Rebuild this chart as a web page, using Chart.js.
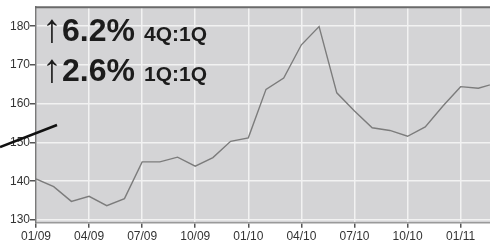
<!DOCTYPE html>
<html>
<head>
<meta charset="utf-8">
<script src="https://cdn.jsdelivr.net/npm/chart.js@4/dist/chart.umd.min.js"></script>
<style>
  html, body { margin: 0; padding: 0; background: #fff; }
</style>
</head>
<body>
<canvas id="price" width="490" height="248"></canvas>
<script>
const months = [
    "01/09","02/09","03/09","04/09","05/09","06/09","07/09","08/09","09/09",
    "10/09","11/09","12/09","01/10","02/10","03/10","04/10","05/10","06/10",
    "07/10","08/10","09/10","10/10","11/10","12/10","01/11","02/11","03/11"
]
const values = [
    140.6, 138.6, 134.8, 136.1, 133.7, 135.5, 145.0, 145.0, 146.2,
    143.9, 146.1, 150.3, 151.2, 163.7, 166.6, 175.2, 179.9, 162.8,
    158.1, 153.8, 153.1, 151.6, 154.0, 159.4, 164.4, 164.0, 165.3
]
const yTicks = [130, 140, 150, 160, 170, 180]
const xTickLabels = ["01/09","04/09","07/09","10/09","01/10","04/10","07/10","10/10","01/11"]
const notes = [
    {big: "6.2%", small: "4Q:1Q"},
    {big: "2.6%", small: "1Q:1Q"}
]

Chart.defaults.font.family = "'Liberation Sans', Arial, sans-serif"

// plot background, top border, the big % notes and the stray pen line
const decor = {
    id: 'decor',
    beforeDraw(chart) {
        const a = chart.chartArea
        const ctx = chart.ctx
        ctx.save()
        ctx.fillStyle = '#d4d4d6'
        ctx.fillRect(a.left, a.top, a.right - a.left, a.bottom - a.top)
        ctx.restore()
    },
    afterDraw(chart) {
        const a = chart.chartArea
        const ctx = chart.ctx
        ctx.save()
        ctx.strokeStyle = '#6a6a6a'
        ctx.lineWidth = 2
        ctx.beginPath()
        ctx.moveTo(a.left - 1, a.top)
        ctx.lineTo(a.right, a.top)
        ctx.stroke()

        ctx.fillStyle = '#1c1c1c'
        ctx.textBaseline = 'alphabetic'
        notes.forEach((n, i) => {
            const y = 41 + i * 39.5
            ctx.font = "bold 40px 'Liberation Sans', Arial"
            ctx.fillText("\u2191", 42, y + 1)
            ctx.font = "bold 32px 'Liberation Sans', Arial"
            ctx.fillText(n.big, 62, y)
            ctx.font = "bold 21px 'Liberation Sans', Arial"
            ctx.fillText(n.small, 144, y)
        })

        ctx.strokeStyle = '#111'
        ctx.lineWidth = 2.5
        ctx.beginPath()
        ctx.moveTo(0, 147)
        ctx.lineTo(57, 125)
        ctx.stroke()
        ctx.restore()
    }
}

const price_chart = new Chart(
    document.getElementById("price"),
    {
        type: 'line',
        data: {
            datasets: [{
                data: values.map((v, i) => ({x: i, y: v})),
                borderColor: '#7c7c7c',
                borderWidth: 1.4,
                pointRadius: 0,
                tension: 0
            }]
        },
        options: {
            responsive: false,
            animation: false,
            devicePixelRatio: 1,
            layout: {padding: {top: 5, left: 0, right: 0, bottom: 0}},
            plugins: {legend: {display: false}, tooltip: {enabled: false}},
            scales: {
                x: {
                    type: 'linear',
                    min: 0,
                    max: 25.66,
                    afterBuildTicks: s => {
                        s.ticks = xTickLabels.map(l => ({value: months.indexOf(l)}))
                    },
                    afterFit: s => { s.height = 25.3 },
                    ticks: {
                        callback: v => months[v],
                        color: '#333',
                        font: {size: 12},
                        padding: 2,
                        maxRotation: 0,
                        autoSkip: false
                    },
                    grid: {color: '#f2f2f2', lineWidth: 1.5, tickColor: '#555', tickLength: 5},
                    border: {color: '#9a9a9a', width: 1.5}
                },
                y: {
                    min: 129.3,
                    max: 184.9,
                    afterBuildTicks: s => {
                        s.ticks = yTicks.map(v => ({value: v}))
                    },
                    afterFit: s => { s.width = 36 },
                    ticks: {color: '#333', font: {size: 12}, padding: 0},
                    grid: {color: '#f2f2f2', lineWidth: 1.5, tickColor: '#555', tickLength: 6},
                    border: {color: '#7a7a7a', width: 1.5}
                }
            }
        },
        plugins: [decor]
    }
)
</script>
</body>
</html>
